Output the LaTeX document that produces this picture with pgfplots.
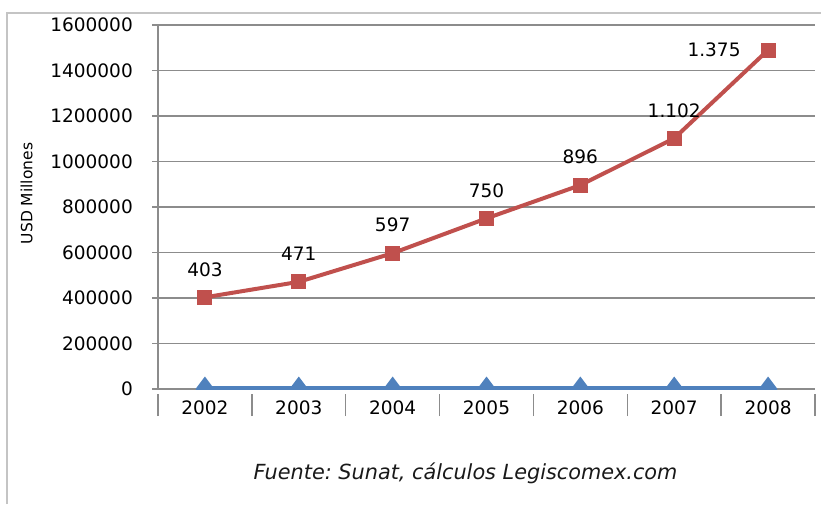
\documentclass[border=0pt]{standalone}
\usepackage{pgfplots}
\pgfplotsset{compat=1.18}
\usepackage{fontspec}
\setmainfont{DejaVu Sans}
\frenchspacing
\definecolor{redS}{HTML}{C0504D}
\definecolor{blueS}{HTML}{4F81BD}
\definecolor{gridc}{HTML}{8C8C8C}
\definecolor{framec}{HTML}{C4C4C4}
\begin{document}
\begin{tikzpicture}
\path[use as bounding box] (0,0) rectangle (821pt,504pt);
\draw[framec, line width=2pt] (7pt,0pt) -- (7pt,491pt) -- (821pt,491pt);
\begin{axis}[
  at={(158pt,115pt)}, anchor=south west,
  scale only axis, width=657pt, height=364pt,
  xmin=-0.5, xmax=6.5, ymin=0, ymax=1600000,
  ytick={0,200000,...,1600000},
  xtick={0,...,6},
  xticklabels={2002,2003,2004,2005,2006,2007,2008},
  minor xtick={-0.5,0.5,...,6.5},
  axis x line*=bottom, axis y line*=left,
  axis line style={gridc, line width=1.5pt},
  ymajorgrids, grid style={gridc, line width=1.5pt},
  tick align=outside,
  major tick length=6pt, minor tick length=22pt,
  major x tick style={draw=none},
  minor x tick style={gridc, line width=1.5pt, yshift=-5pt},
  y tick style={gridc, line width=1.5pt},
  scaled y ticks=false,
  /pgf/number format/assume math mode=true,
  yticklabel={\pgfmathprintnumber[fixed,precision=0,1000 sep={}]{\tick}},
  tick label style={font=\fontsize{18.5}{22}\selectfont, text=black},
  yticklabel style={anchor=east, inner sep=0pt, xshift=-19pt},
  xticklabel style={anchor=north, inner sep=0pt, yshift=-6pt},
  ylabel={USD Millones},
  ylabel style={at={(axis description cs:-0.2,0.537)}, rotate=0, anchor=center, font=\fontsize{15.5}{18}\selectfont},
  clip marker paths=true,
]
\addplot[blueS, line width=6pt, mark=diamond*, mark size=7.5pt, mark options={solid, fill=blueS, draw=none}]
  coordinates {(0,0) (1,0) (2,0) (3,0) (4,0) (5,0) (6,0)};
\addplot[redS, line width=4pt, mark=square*, mark size=7pt, mark options={fill=redS, draw=redS, line width=0pt},
  point meta=explicit symbolic,
  nodes near coords, every node near coord/.style={anchor=center, yshift=28pt, text=black, font=\fontsize{18.5}{22}\selectfont}]
  coordinates {(0,403000)[403] (1,471000)[471] (2,597000)[597] (3,750000)[750] (4,896000)[896] (5,1102000)[1.102] (6,1490000)[]};
\node[anchor=east, font=\fontsize{18.5}{22}\selectfont, text=black] at (axis cs:6,1490000) [xshift=-24pt] {1.375};
\end{axis}
\node[font=\fontsize{20.8}{24}\selectfont\itshape, text=black!90] at (465.5pt,31pt) {Fuente: Sunat, cálculos Legiscomex.com};
\end{tikzpicture}
\end{document}
